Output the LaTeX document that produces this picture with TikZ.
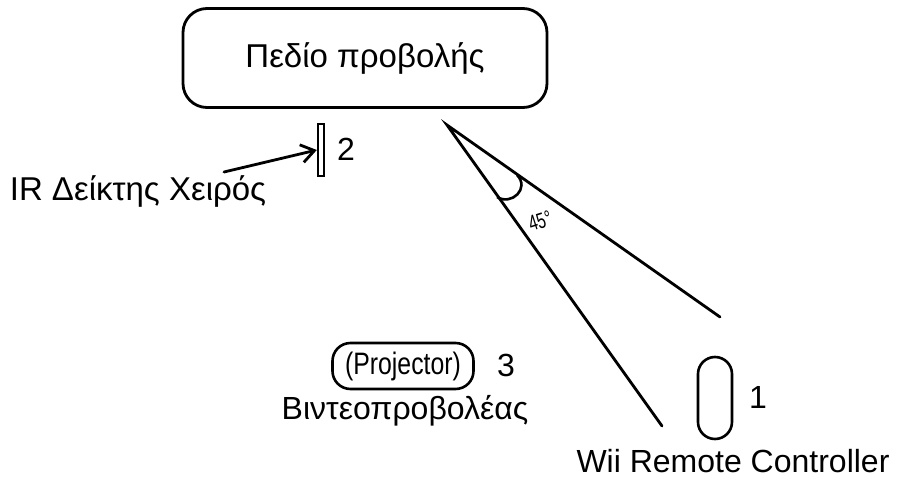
\documentclass[tikz,border=0pt]{standalone}
\usepackage{fontspec}
\setmainfont{Liberation Sans}
\usetikzlibrary{arrows.meta}
\begin{document}
\begin{tikzpicture}[x=1pt,y=-1pt,
  line/.style={line width=2.8pt, line cap=round},
  lbl/.style={font=\fontsize{32}{36}\selectfont, inner sep=0pt}]
\useasboundingbox (0,0) rectangle (898,477);
% Projection screen
\node[draw, line width=2.8pt, rounded corners=24pt, minimum width=364pt, minimum height=99pt,
  lbl, font=\fontsize{33}{36}\selectfont] (screen) at (365,58) {Πεδίο προβολής};
% IR pointer
\node[draw, line width=2.4pt, minimum width=6pt, minimum height=52pt, inner sep=0pt] (ir) at (321,150) {};
\node[lbl, anchor=west] (n2) at (337,149) {2};
\node[lbl, font=\fontsize{33}{36}\selectfont] (irlbl) at (138,191) {IR Δείκτης Χειρός};
\coordinate (irstart) at (224,172);
\draw[line, -{Straight Barb[length=13pt,width=18pt]}] (irstart) -- (ir.west);
% Angle
\coordinate (apex) at (447,125);
\coordinate (far) at (720,317);
\coordinate (near) at (662,426);
\draw[line] (far) -- (apex) -- (near);
\coordinate (a1) at (517,175);
\coordinate (a2) at (497,197);
\draw[line width=2.6pt] (a1) .. controls (530,188) and (512,206) .. (a2);
\node[inner sep=0pt, rotate=18] (deg) at (540,221) {\fontsize{22}{26}\selectfont\scalebox{0.7}[1]{45°}};
% Projector
\node[draw, line width=2.6pt, rounded corners=18pt, minimum width=141pt, minimum height=46pt, inner sep=0pt] (proj) at (403,366) {\fontsize{31}{34}\selectfont\scalebox{0.8}[1]{(Projector)}};
\node[lbl] (n3) at (506,365) {3};
\node[lbl] (projlbl) at (405,411) {Βιντεοπροβολέας};
% Wii remote
\node[draw, line width=2.6pt, rounded corners=17pt, minimum width=34pt, minimum height=82pt, inner sep=0pt] (wii) at (715,398) {};
\node[lbl] (n1) at (758,397) {1};
\node[lbl] (wiilbl) at (733,461) {Wii Remote Controller};
\end{tikzpicture}
\end{document}
